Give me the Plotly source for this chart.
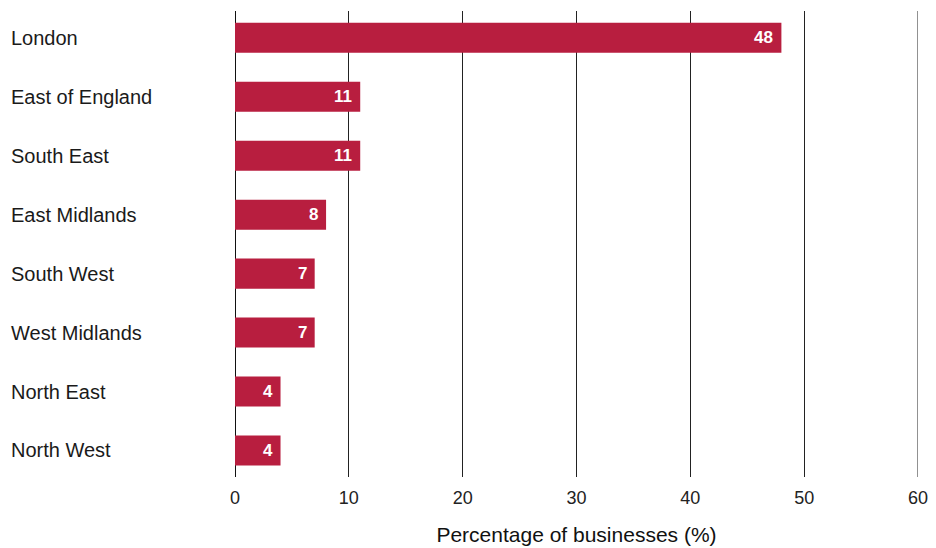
import plotly.graph_objects as go

regions = ["London", "East of England", "South East", "East Midlands",
           "South West", "West Midlands", "North East", "North West"]
shares = [48, 11, 11, 8, 7, 7, 4, 4]
x_ticks = [0, 10, 20, 30, 40, 50, 60]

BAR = "#B81E3F"
FONT = "Liberation Sans, Arial, Helvetica, sans-serif"

W, H = 936, 548
ML, MR, MT, MB = 235, 18, 11, 71

fig = go.Figure(go.Bar(
    x=shares, y=regions, orientation="h",
    marker=dict(color=BAR, line=dict(width=0)),
    width=0.51, hoverinfo="skip",
))

annotations = []
# value labels inside the bar ends
for r, v in zip(regions, shares):
    annotations.append(dict(
        x=v, y=r, xref="x", yref="y", text=f"<b>{v}</b>", showarrow=False,
        xanchor="right", xshift=-6,
        font=dict(family=FONT, size=17, color="white"),
    ))
# left-aligned region names
plot_w = W - ML - MR
for r in regions:
    annotations.append(dict(
        x=-(ML - 9) / plot_w, y=r, xref="paper", yref="y", text=r,
        showarrow=False, xanchor="left",
        font=dict(family=FONT, size=20, color="#1a1a1a"),
    ))

# the gridline at the right edge of the axis is clipped by plotly; draw it explicitly
shapes = [dict(type="line", xref="x", yref="paper", x0=x_ticks[-1], x1=x_ticks[-1],
               y0=0, y1=1, line=dict(color="#222222", width=1), layer="below")]

fig.update_layout(
    width=W, height=H,
    margin=dict(l=ML, r=MR, t=MT, b=MB),
    paper_bgcolor="white", plot_bgcolor="white",
    showlegend=False,
    annotations=annotations,
    shapes=shapes,
    xaxis=dict(
        range=[0, 60], tickvals=x_ticks, showgrid=True, automargin=False,
        gridcolor="#222222", gridwidth=1, zeroline=True,
        zerolinecolor="#111111", zerolinewidth=1,
        showline=False, ticks="", ticklabelstandoff=8,
        tickfont=dict(family=FONT, size=18, color="#222222"),
        title=dict(text="Percentage of businesses (%)", standoff=20,
                   font=dict(family=FONT, size=21, color="#111111")),
    ),
    yaxis=dict(
        categoryorder="array", categoryarray=regions, automargin=False,
        range=[7.45, -0.455], showticklabels=False, showgrid=False,
        zeroline=False, showline=False, ticks="",
    ),
)

fig.write_html("out.html")
